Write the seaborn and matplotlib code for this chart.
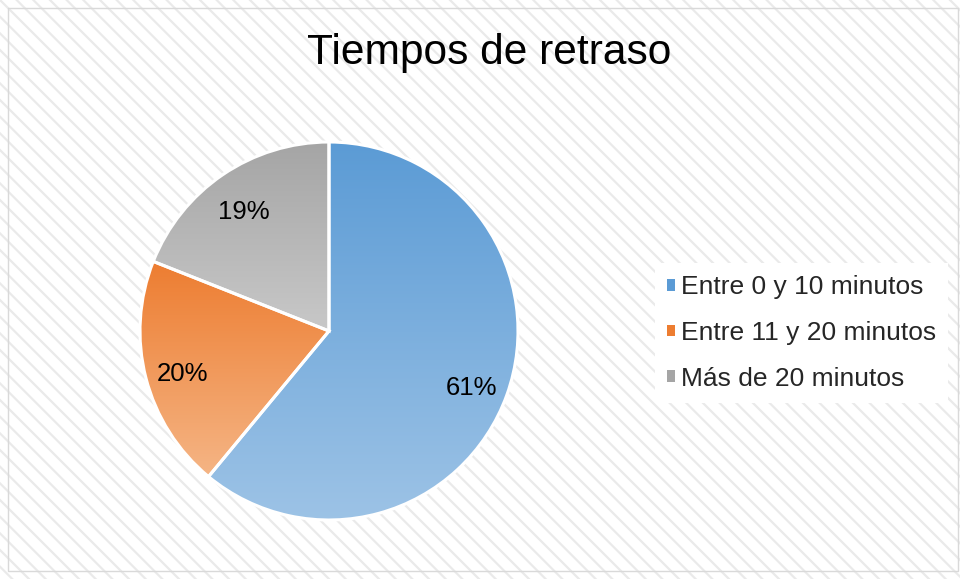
import matplotlib

matplotlib.use("Agg")
import matplotlib.pyplot as plt
import numpy as np
import seaborn as sns
from matplotlib.colors import LinearSegmentedColormap
from matplotlib.patches import Patch, Rectangle

categories = ["Entre 0 y 10 minutos", "Entre 11 y 20 minutos", "Más de 20 minutos"]
values = [61, 20, 19]
# (top colour, bottom colour) of each slice's vertical gradient
gradients = [("#5B9BD5", "#9DC3E6"), ("#ED7D31", "#F5B585"), ("#A5A5A5", "#C8C8C8")]
title = "Tiempos de retraso"

sns.set_theme(style="white")
plt.rcParams["font.family"] = ["Liberation Sans", "DejaVu Sans"]
plt.rcParams["hatch.linewidth"] = 1.6

fig = plt.figure(figsize=(9.6, 5.79), dpi=100)
fig.patch.set_facecolor("white")

# striped background and thin frame
bg = Rectangle((0, 0), 1, 1, transform=fig.transFigure, facecolor="white",
               edgecolor="#EAEAEA", hatch="\\\\", linewidth=0, zorder=-2)
fig.patches.append(bg)
frame = Rectangle((8 / 960, 8 / 579), 950 / 960, 563 / 579, transform=fig.transFigure,
                  fill=False, edgecolor="#D9D9D9", linewidth=1.0, zorder=-1)
fig.patches.append(frame)

cx, cy, r = 329, 331, 189
lim = 1.02
ax = fig.add_axes([(cx - r * lim) / 960, (579 - cy - r * lim) / 579,
                   2 * r * lim / 960, 2 * r * lim / 579])
ax.set_facecolor("none")

wedges, texts, autotexts = ax.pie(
    values,
    startangle=90,
    counterclock=False,
    autopct="%1.0f%%",
    pctdistance=0.8,
    colors=[g[0] for g in gradients],
    wedgeprops=dict(edgecolor="white", linewidth=2.2),
    textprops=dict(fontsize=18.5, color="black"),
)

# vertical gradient inside each wedge
for w, (top, bottom) in zip(wedges, gradients):
    verts = w.get_path().vertices
    y0, y1 = verts[:, 1].min(), verts[:, 1].max()
    x0, x1 = verts[:, 0].min(), verts[:, 0].max()
    cmap = LinearSegmentedColormap.from_list("g", [bottom, top])
    grad = np.linspace(0, 1, 256).reshape(-1, 1)
    im = ax.imshow(grad, cmap=cmap, origin="lower", extent=[x0, x1, y0, y1],
                   aspect="auto", zorder=w.get_zorder() + 0.1)
    im.set_clip_path(w)
    w.set_facecolor("none")
    w.set_zorder(w.get_zorder() + 0.2)
ax.set_xlim(-lim, lim)
ax.set_ylim(-lim, lim)
ax.set_aspect("equal")
for t in autotexts:
    t.set_zorder(5)
    x, y = t.get_position()
    t.set_position((x, y - 0.03))

fig.text(489 / 960, 1 - 53 / 579, title, ha="center", va="center", fontsize=30.6, color="black")

handles = [Patch(facecolor=g[0], edgecolor="none") for g in gradients]
fig.legend(
    handles, categories,
    loc="center left", bbox_to_anchor=(655 / 960, 1 - 333 / 579),
    frameon=True, facecolor="white", edgecolor="none", framealpha=1.0,
    fontsize=19, handlelength=0.32, handleheight=0.32, handletextpad=0.2,
    labelspacing=0.82, borderpad=0.45, borderaxespad=0, fancybox=False,
)

fig.savefig("out.png", dpi=100)
